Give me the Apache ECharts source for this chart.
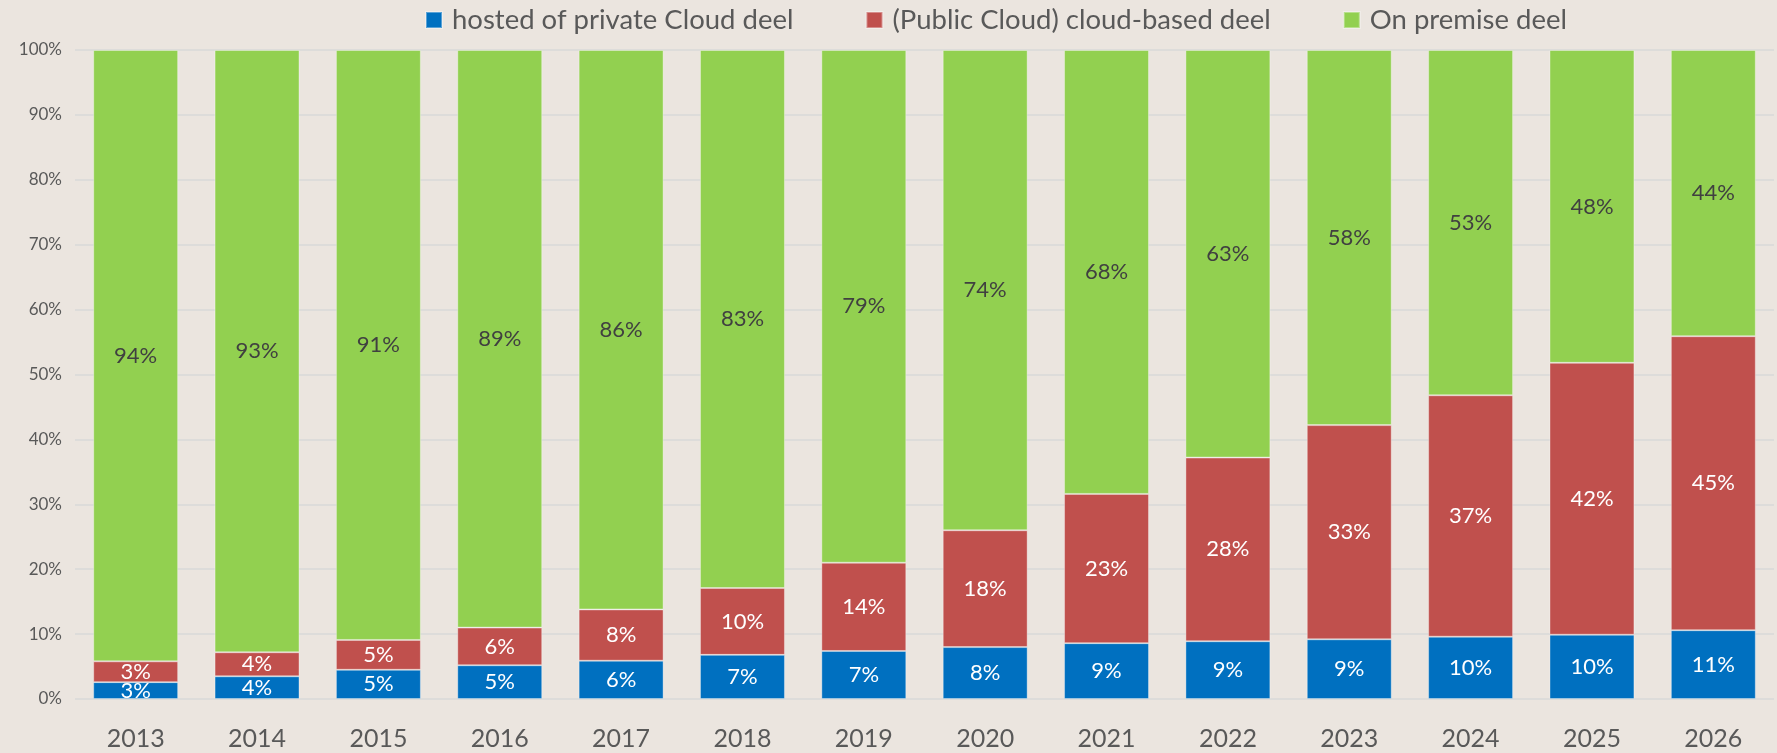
<!DOCTYPE html>
<html>
<head>
<meta charset="utf-8">
<script src="https://cdn.jsdelivr.net/npm/echarts@6/dist/echarts.min.js"></script>
<style>
  html, body { margin: 0; padding: 0; background: #ebe5df; }
  #main { width: 1777px; height: 753px; }
</style>
</head>
<body>
<div id="main"></div>
<script>
// categories
var years = ["2013", "2014", "2015", "2016", "2017", "2018", "2019",
  "2020", "2021", "2022", "2023", "2024", "2025", "2026"];
// share in %
var hostedPrivate = [2.6, 3.5, 4.5, 5.2, 5.9, 6.8, 7.4, 8.0, 8.6, 8.9, 9.2, 9.6, 9.9, 10.6];
var publicCloud = [3.2, 3.7, 4.6, 5.8, 7.9, 10.3, 13.6, 18.0, 23.0, 28.3, 33.0, 37.2, 41.9, 45.3];
var onPremise = [94.2, 92.8, 90.9, 89.0, 86.2, 82.9, 79.0, 74.0, 68.4, 62.8, 57.8, 53.2, 48.2, 44.1];
var yTicks = [0, 10, 20, 30, 40, 50, 60, 70, 80, 90, 100];

var FONT = "Lato";

function pct(p) {
  return Math.round(p.value) + "%";
}

var myChart = echarts.init(document.getElementById("main"));
var option = {
  backgroundColor: "#ebe5df",
  textStyle: { fontFamily: FONT },
  animation: false,
  legend: {
    top: 1,
    left: 420,
    itemWidth: 16,
    itemHeight: 16,
    itemGap: 72,
    icon: "rect",
    textStyle: { fontSize: 27.5, color: "#595959", fontFamily: FONT, padding: [0, 0, 0, 5] },
    data: ["hosted of private Cloud deel", "(Public Cloud) cloud-based deel", "On premise deel"]
  },
  grid: {
    left: 75,
    right: 3,
    top: 50,
    bottom: 54,
    containLabel: false
  },
  xAxis: {
    type: "category",
    data: years,
    axisLine: { show: false },
    axisTick: { show: false },
    axisLabel: { color: "#595959", fontSize: 25, margin: 27 }
  },
  yAxis: {
    type: "value",
    min: 0,
    max: 100,
    interval: 10,
    axisLine: { show: false },
    axisTick: { show: false },
    axisLabel: {
      color: "#595959",
      fontSize: 17,
      margin: 13,
      formatter: function (v) { return yTicks.indexOf(v) >= 0 ? v + "%" : ""; }
    },
    splitLine: { lineStyle: { color: "#d9d9d9", width: 1.5 } }
  },
  series: [
    {
      name: "hosted of private Cloud deel",
      type: "bar",
      stack: "all",
      barCategoryGap: "30%",
      data: hostedPrivate,
      itemStyle: { color: "#0070c0", borderColor: "rgba(255,255,255,0.35)", borderWidth: 1 },
      label: { show: true, position: "inside", color: "#fff", fontSize: 22, formatter: pct }
    },
    {
      name: "(Public Cloud) cloud-based deel",
      type: "bar",
      stack: "all",
      data: publicCloud,
      itemStyle: { color: "#c0504d", borderColor: "rgba(255,255,255,0.35)", borderWidth: 1 },
      label: { show: true, position: "inside", color: "#fff", fontSize: 22, formatter: pct }
    },
    {
      name: "On premise deel",
      type: "bar",
      stack: "all",
      data: onPremise,
      itemStyle: { color: "#92d050", borderColor: "rgba(255,255,255,0.35)", borderWidth: 1 },
      label: { show: true, position: "inside", color: "#404040", fontSize: 22, formatter: pct }
    }
  ]
};
myChart.setOption(option);
</script>
</body>
</html>
